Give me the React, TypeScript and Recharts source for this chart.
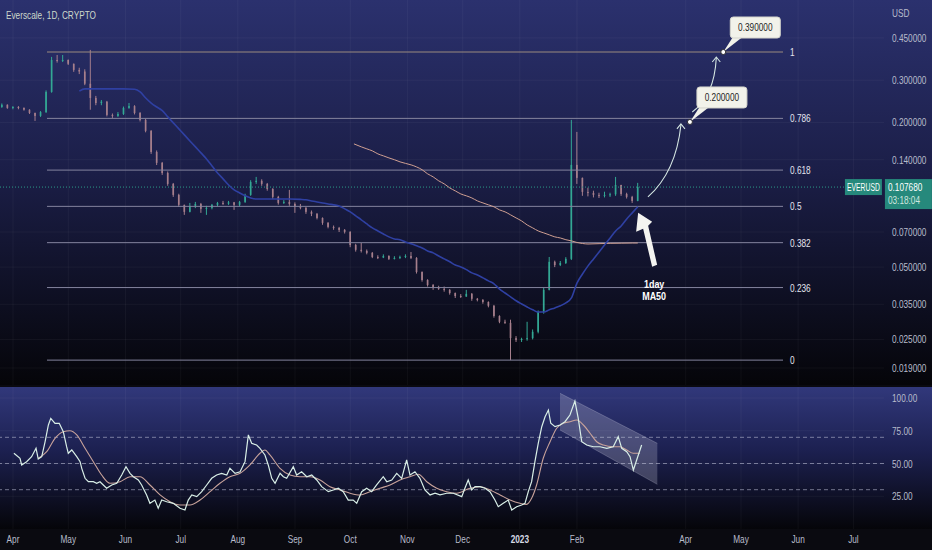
import React from "react";
import {
  ComposedChart,
  Bar,
  Line,
  Area,
  XAxis,
  YAxis,
  ReferenceLine,
  ReferenceDot,
} from "recharts";

const FONT = "'Liberation Sans', Arial, sans-serif";
// x is "days since 2022-04-01"
const X_DOMAIN: [number, number] = [-7.05, 472.6];
const PRICE_DOMAIN: [number, number] = [0.01615, 0.647];
const RSI_DOMAIN: [number, number] = [0, 108.4];

const monthTicks = [0, 30, 61, 91, 122, 153, 183, 214, 244, 275, 306, 365, 395, 426, 456];
const monthLabels = ["Apr", "May", "Jun", "Jul", "Aug", "Sep", "Oct", "Nov", "Dec", "2023", "Feb", "Apr", "May", "Jun", "Jul"];

const priceTicks = [0.019, 0.025, 0.035, 0.05, 0.07, 0.14, 0.2, 0.3, 0.45];
const rsiTicks = [25, 50, 75, 100];
const rsiLevels = [70, 50, 30];

const fibRatios = ["1", "0.786", "0.618", "0.5", "0.382", "0.236", "0"];
const fibPrices = [0.393, 0.208, 0.1267, 0.0895, 0.0632, 0.0411, 0.0205];

const lastPrice = 0.10768;
const targets = ["0.390000", "0.200000"];
const targetPrices = [0.393, 0.201];

// 3-day candles: [day, open, high, low, close]
const candles: number[][] = [
  [-6, 0.232, 0.24, 0.23, 0.237], [-3, 0.237, 0.238, 0.228, 0.23], [0, 0.23, 0.234, 0.227, 0.232],
  [3, 0.232, 0.234, 0.227, 0.23], [6, 0.23, 0.231, 0.224, 0.226], [9, 0.226, 0.227, 0.217, 0.219],
  [12, 0.219, 0.22, 0.203, 0.213], [15, 0.213, 0.223, 0.211, 0.221], [18, 0.221, 0.272, 0.219, 0.268],
  [21, 0.268, 0.375, 0.266, 0.364], [24, 0.364, 0.382, 0.355, 0.361], [27, 0.361, 0.382, 0.357, 0.364],
  [30, 0.364, 0.366, 0.347, 0.351], [33, 0.351, 0.352, 0.325, 0.331], [36, 0.331, 0.338, 0.318, 0.326],
  [39, 0.326, 0.333, 0.286, 0.29], [42, 0.29, 0.401, 0.226, 0.253], [45, 0.253, 0.258, 0.236, 0.241],
  [48, 0.241, 0.248, 0.236, 0.244], [51, 0.244, 0.246, 0.212, 0.215], [54, 0.215, 0.218, 0.209, 0.213],
  [57, 0.213, 0.221, 0.211, 0.217], [60, 0.217, 0.233, 0.215, 0.23], [63, 0.23, 0.241, 0.228, 0.234],
  [66, 0.234, 0.236, 0.216, 0.219], [69, 0.219, 0.221, 0.202, 0.205], [72, 0.205, 0.207, 0.182, 0.1845],
  [75, 0.1845, 0.186, 0.148, 0.1508], [78, 0.1508, 0.153, 0.133, 0.1358], [81, 0.1358, 0.137, 0.121, 0.1233],
  [84, 0.1233, 0.125, 0.109, 0.111], [87, 0.111, 0.112, 0.098, 0.0999], [90, 0.0999, 0.101, 0.089, 0.0908],
  [93, 0.0908, 0.091, 0.0825, 0.0849], [96, 0.0849, 0.0925, 0.0845, 0.0899], [99, 0.0899, 0.0934, 0.088, 0.0916],
  [102, 0.0916, 0.0925, 0.0841, 0.0874], [105, 0.0874, 0.09, 0.0825, 0.0882], [108, 0.0882, 0.0916, 0.087, 0.0908],
  [111, 0.0908, 0.0934, 0.0895, 0.0925], [114, 0.0925, 0.0943, 0.0908, 0.0918], [117, 0.0918, 0.0943, 0.0908, 0.093],
  [120, 0.093, 0.0934, 0.0865, 0.0908], [123, 0.0908, 0.0943, 0.0895, 0.0934], [126, 0.0934, 0.101, 0.0925, 0.0999],
  [129, 0.0999, 0.115, 0.099, 0.1131], [132, 0.1131, 0.1187, 0.111, 0.1143], [135, 0.1143, 0.116, 0.109, 0.111],
  [138, 0.111, 0.112, 0.104, 0.1058], [141, 0.1058, 0.1065, 0.096, 0.098], [144, 0.098, 0.099, 0.091, 0.0925],
  [147, 0.0925, 0.095, 0.0916, 0.0934], [150, 0.0934, 0.1048, 0.09, 0.0916], [153, 0.0916, 0.093, 0.0841, 0.0891],
  [156, 0.0891, 0.0916, 0.087, 0.0882], [159, 0.0882, 0.0891, 0.0833, 0.0849], [162, 0.0849, 0.086, 0.0815, 0.0833],
  [165, 0.0833, 0.084, 0.079, 0.0801], [168, 0.0801, 0.0805, 0.075, 0.0764], [171, 0.0764, 0.077, 0.0725, 0.0735],
  [174, 0.0735, 0.0745, 0.0715, 0.0728], [177, 0.0728, 0.0735, 0.07, 0.0714], [180, 0.0714, 0.072, 0.069, 0.0701],
  [183, 0.0701, 0.0705, 0.0605, 0.0618], [186, 0.0618, 0.0625, 0.058, 0.059], [189, 0.059, 0.063, 0.0575, 0.0584],
  [192, 0.0584, 0.0592, 0.0565, 0.0573], [195, 0.0573, 0.0578, 0.0545, 0.0551], [198, 0.0551, 0.056, 0.054, 0.0548],
  [201, 0.0548, 0.0565, 0.0545, 0.0556], [204, 0.0556, 0.056, 0.0535, 0.0541], [207, 0.0541, 0.0555, 0.0538, 0.0546],
  [210, 0.0546, 0.0558, 0.054, 0.0551], [213, 0.0551, 0.0565, 0.0545, 0.0556], [216, 0.0556, 0.0578, 0.054, 0.0546],
  [219, 0.0546, 0.055, 0.047, 0.0477], [222, 0.0477, 0.048, 0.0435, 0.0442], [225, 0.0442, 0.0445, 0.0415, 0.0421],
  [228, 0.0421, 0.0425, 0.0402, 0.041], [231, 0.041, 0.0418, 0.0402, 0.0406], [234, 0.0406, 0.0415, 0.0395, 0.0402],
  [237, 0.0402, 0.0405, 0.0384, 0.039], [240, 0.039, 0.0392, 0.0372, 0.0379], [243, 0.0379, 0.0386, 0.0372, 0.0377],
  [246, 0.0377, 0.0402, 0.0376, 0.0387], [249, 0.0387, 0.039, 0.0362, 0.0369], [252, 0.0369, 0.0372, 0.036, 0.0365],
  [255, 0.0365, 0.0368, 0.0352, 0.0358], [258, 0.0358, 0.036, 0.034, 0.0345], [261, 0.0345, 0.0348, 0.0308, 0.0313],
  [264, 0.0313, 0.0315, 0.0292, 0.0296], [267, 0.0296, 0.0302, 0.029, 0.0293], [270, 0.0293, 0.0302, 0.0205, 0.0253],
  [273, 0.0253, 0.0258, 0.0244, 0.0249], [276, 0.0249, 0.0254, 0.0244, 0.0251], [279, 0.0251, 0.0296, 0.0247, 0.0253],
  [282, 0.0253, 0.0275, 0.025, 0.0269], [285, 0.0269, 0.033, 0.0265, 0.0325], [288, 0.0325, 0.041, 0.032, 0.0402],
  [291, 0.0402, 0.0551, 0.04, 0.0526], [294, 0.0526, 0.0532, 0.05, 0.051], [297, 0.051, 0.053, 0.0505, 0.052],
  [300, 0.052, 0.055, 0.0515, 0.0541], [303, 0.0541, 0.205, 0.0535, 0.1332], [306, 0.1332, 0.1827, 0.111, 0.1176],
  [309, 0.1176, 0.118, 0.099, 0.1028], [312, 0.1028, 0.107, 0.0985, 0.1018], [315, 0.1018, 0.104, 0.0975, 0.0999],
  [318, 0.0999, 0.102, 0.097, 0.099], [321, 0.099, 0.103, 0.0975, 0.0999], [324, 0.0999, 0.102, 0.098, 0.1005],
  [327, 0.1005, 0.1187, 0.099, 0.1099], [330, 0.1099, 0.11, 0.099, 0.1008], [333, 0.1008, 0.102, 0.0965, 0.098],
  [336, 0.098, 0.099, 0.0925, 0.0943], [339, 0.0943, 0.1121, 0.094, 0.10768],
];

// [day, value]
const ma50: number[][] = [
  [36, 0.27], [39, 0.276], [42, 0.276], [48, 0.276], [54, 0.276], [60, 0.276], [66, 0.275], [69, 0.268],
  [72, 0.253], [75, 0.241], [78, 0.232], [81, 0.224], [84, 0.211], [87, 0.1992], [90, 0.1881], [93, 0.1776],
  [96, 0.1676], [99, 0.1583], [102, 0.1494], [105, 0.141], [108, 0.1319], [111, 0.1233], [114, 0.1165],
  [117, 0.1099], [120, 0.1048], [123, 0.1018], [126, 0.099], [129, 0.097], [132, 0.0961], [141, 0.0961],
  [150, 0.0961], [156, 0.0957], [159, 0.0953], [162, 0.0943], [165, 0.0934], [168, 0.0925], [171, 0.0916],
  [174, 0.0908], [177, 0.0899], [180, 0.0874], [183, 0.0849], [186, 0.0817], [189, 0.0787], [192, 0.0756],
  [195, 0.0728], [198, 0.0707], [201, 0.0687], [204, 0.0668], [207, 0.0655], [210, 0.065], [213, 0.0636],
  [216, 0.0625], [219, 0.0613], [222, 0.0601], [225, 0.0584], [228, 0.0573], [231, 0.0556], [234, 0.0541],
  [237, 0.0526], [240, 0.051], [243, 0.0501], [246, 0.0488], [249, 0.0473], [252, 0.0464], [255, 0.0451],
  [258, 0.0438], [261, 0.0426], [264, 0.0405], [267, 0.039], [270, 0.0376], [273, 0.0362], [276, 0.0351],
  [279, 0.0341], [282, 0.0332], [285, 0.0325], [288, 0.0325], [291, 0.0332], [294, 0.0338], [297, 0.0345],
  [300, 0.0355], [303, 0.0372], [306, 0.0429], [309, 0.0468], [312, 0.0506], [315, 0.0541], [318, 0.0578],
  [321, 0.0618], [324, 0.0661], [327, 0.0707], [330, 0.0742], [333, 0.0793], [336, 0.0841], [339, 0.0891],
];

const ma200: number[][] = [
  [185, 0.1629], [189, 0.1583], [192, 0.1553], [195, 0.1523], [198, 0.148], [201, 0.1452], [204, 0.1424],
  [207, 0.1399], [210, 0.1371], [213, 0.1351], [216, 0.1332], [219, 0.1306], [222, 0.1271], [225, 0.1222],
  [228, 0.1187], [231, 0.1143], [234, 0.111], [237, 0.1068], [240, 0.1038], [243, 0.1008], [246, 0.099],
  [249, 0.097], [252, 0.0943], [255, 0.0925], [258, 0.0908], [261, 0.0891], [264, 0.0865], [267, 0.0849],
  [270, 0.0825], [273, 0.0801], [276, 0.0778], [279, 0.0749], [282, 0.0728], [285, 0.0707], [288, 0.0694],
  [291, 0.0681], [294, 0.0668], [297, 0.0661], [300, 0.065], [303, 0.0643], [306, 0.0633], [309, 0.0627],
  [312, 0.0624], [318, 0.0626], [324, 0.0628], [330, 0.0629], [336, 0.063], [339, 0.063],
];

const rsi: number[][] = [
  [0.5, 57.8], [3.8, 54], [4.7, 48.9], [7.4, 51.4], [10.1, 55.2], [12.5, 61.6], [13.7, 53.4], [15.6, 55.2],
  [17.4, 66.6], [19.2, 79.4], [20.5, 84.5], [22.8, 80.7], [25.1, 80.7], [27.3, 74.3], [29.1, 62.8], [30, 57.8],
  [31.9, 60.3], [34.6, 55.2], [36.4, 51.4], [37.3, 46.3], [39.1, 38.7], [40.9, 36.1], [43.6, 36.1], [45.4, 34.9],
  [47.2, 36.1], [49, 33.6], [50.8, 31.1], [53.6, 33.6], [56.3, 34.9], [59, 41.2], [61.3, 47.6], [63.5, 42.5],
  [65.3, 39.9], [68, 37.4], [69.8, 33.6], [72.5, 26], [74.3, 19.6], [77, 22.1], [78.8, 15.8], [80.7, 22.1],
  [83.4, 20.8], [87, 19.6], [90.6, 15.8], [93.3, 14.5], [95.1, 22.1], [97, 26], [99.7, 24.7], [102.4, 28.5],
  [105.1, 33.6], [107.8, 38.7], [110.5, 41.2], [113.2, 42.5], [116, 41.2], [117.7, 46.3], [120.5, 42.5],
  [123.2, 43.7], [125.9, 51.4], [127.7, 71.8], [129.5, 65.4], [132.2, 64.1], [134, 61.6], [136.7, 56.5],
  [138.5, 48.9], [140.4, 38.7], [142.2, 34.9], [144.9, 42.5], [146.7, 39.9], [148.5, 38.7], [152.1, 47.6],
  [153.9, 41.2], [156.6, 43.7], [159.4, 39.9], [162.1, 41.2], [164.8, 37.4], [167.5, 32.3], [171.1, 28.5],
  [173.8, 29.8], [176.5, 31.1], [179.2, 28.5], [181.9, 22.1], [184.6, 22.1], [186.5, 19.6], [189.2, 28.5],
  [191.9, 31.1], [194.6, 28.5], [197.3, 33.6], [200.9, 39.9], [202.8, 36.1], [205.5, 37.4], [208.2, 42.5],
  [210.9, 38.7], [213.6, 52.7], [215.4, 41.2], [218.1, 43.7], [220.8, 38.7], [223.5, 29.8], [226.3, 26],
  [229, 27.3], [231.7, 26], [235.3, 27.3], [238.9, 27.3], [243.5, 24.7], [245.2, 31.1], [247, 37.4],
  [248.9, 29.8], [250.7, 32.3], [253.4, 32.3], [256.1, 31.1], [258.8, 28.5], [261.5, 22.1], [263.3, 17],
  [266, 19.6], [268.7, 22.1], [270.6, 14.5], [273.3, 17], [276, 18.3], [277.8, 19.6], [279.6, 28.5],
  [281.4, 36.1], [283.2, 51.4], [285, 65.4], [286.9, 78.1], [288.7, 85.7], [290.5, 90.8], [291.8, 80.7],
  [294.1, 78.1], [296.8, 79.4], [299.5, 81.9], [302.2, 87], [304.9, 97.7], [306.7, 84.5], [308.6, 66.6],
  [311.3, 64.1], [314.9, 62.8], [318.5, 62.8], [322.2, 61.6], [325.7, 62.8], [328.4, 70.5], [330.3, 61.6],
  [333, 59], [334.8, 55.2], [336.6, 45], [338.4, 52.7], [341.1, 64.1],
];

const rsiMa: number[][] = [
  [13.7, 54], [18.3, 59], [22.8, 69.2], [27.3, 74.3], [30.9, 75], [34.6, 71.8], [39.1, 61.6], [43.6, 51.4],
  [48.1, 41.2], [52.6, 34.9], [58.1, 36.1], [63.5, 39.9], [68.9, 39.9], [74.3, 33.6], [79.8, 26], [85.2, 20.8],
  [90.6, 18.3], [96, 18.3], [101.5, 22.1], [106.9, 28.5], [112.3, 34.9], [117.7, 39.9], [123.2, 42.5],
  [128.6, 48.9], [134, 57.8], [136.7, 60.3], [139.4, 56.5], [144.9, 46.3], [150.3, 41.2], [155.7, 39.9],
  [161.2, 39.9], [166.6, 37.4], [172, 32.3], [177.4, 29.8], [182.9, 27.3], [188.3, 26], [193.7, 28.5],
  [199.1, 31.1], [204.6, 33.6], [210, 37.4], [215.4, 39.9], [219.9, 41.8], [224.5, 36.1], [229.9, 31.1],
  [235.3, 28.5], [240.7, 27.3], [248, 31.1], [253.4, 32.3], [258.8, 29.8], [264.3, 26], [269.7, 22.1],
  [275.1, 19.6], [278.7, 18.8], [281.4, 23.4], [284.1, 33.6], [287.7, 54], [291.4, 66.6], [295, 76.9],
  [298.6, 80.7], [302.2, 81.9], [305.9, 83.2], [309.5, 79.4], [313.1, 73.1], [316.7, 66.6], [320.3, 64.1],
  [325.7, 62.8], [329.4, 62.8], [333, 60.3], [336.6, 57.8], [340.2, 57.8],
];

// falling channel drawn on the RSI pane: [day, low, high]
const rsiChannel: number[][] = [
  [296.8, 75.6, 103.6],
  [349.6, 34.1, 65.4],
];

const candleRows = candles.map(([d, o, h, l, c]) => ({ d, o, h, l, c }));
const pairRows = (a: number[][]) => a.map(([d, v]) => ({ d, v }));
const channelRows = rsiChannel.map(([d, lo, hi]) => ({ d, r: [lo, hi] }));

// the screenshot's type is horizontally squeezed
function NarrowText({ x, y, text, size = 11, fill = "#b8bccb", anchor = "start", weight = 400, sx = 0.75 }: any) {
  return (
    <text transform={`translate(${x},${y}) scale(${sx},1)`} fontSize={size} fill={fill}
      textAnchor={anchor} fontFamily={FONT} fontWeight={weight}>
      {text}
    </text>
  );
}

function Candle(props: any) {
  const { x, y, width, height, payload } = props;
  if (!payload || y == null || height == null) return null;
  const { o, h, l, c } = payload;
  const top = Math.min(y, y + height);
  const bot = Math.max(y, y + height);
  const span = Math.log(h) - Math.log(l);
  const at = (v: number) => (span > 0 ? top + ((bot - top) * (Math.log(h) - Math.log(v))) / span : top);
  const col = c >= o ? "#33a894" : "#a67f8c";
  const bTop = at(Math.max(o, c));
  const bBot = at(Math.min(o, c));
  const cx = x + width / 2;
  return (
    <g>
      <line x1={cx} x2={cx} y1={top} y2={bot} stroke={col} strokeWidth={1} />
      <rect x={x} y={bTop} width={width} height={Math.max(1, bBot - bTop)} fill={col} />
    </g>
  );
}

const PriceTick = (p: any) => (
  <NarrowText x={p.x} y={p.y + 4} text={Number(p.payload.value).toFixed(6)} />
);
const RsiTick = (p: any) => (
  <NarrowText x={p.x} y={p.y + 4} text={Number(p.payload.value).toFixed(2)} />
);
const MonthTick = (p: any) => {
  const label = monthLabels[monthTicks.indexOf(p.payload.value)] ?? "";
  const year = label === "2023";
  return (
    <NarrowText x={p.x} y={p.y + 6} text={label} anchor="middle"
      fill={year ? "#d6d9e4" : "#b8bccb"} weight={year ? 700 : 400} />
  );
};

function Callout({ cx, cy, text }: any) {
  return (
    <g>
      <polygon points={`${cx},${cy} ${cx + 9},${cy - 14} ${cx + 18},${cy - 14}`} fill="#f2f2ea" />
      <rect x={cx + 7} y={cy - 35} width={50} height={21} rx={3} fill="#f2f2ea" stroke="#d4d4cc" />
      <NarrowText x={cx + 32} y={cy - 21} text={text} anchor="middle" fill="#1e1e24" />
      <circle cx={cx} cy={cy} r={2.5} fill="#ffffff" stroke="#2a2a30" strokeWidth={1} />
    </g>
  );
}

function CurvedArrow({ cx, cy, path, head }: any) {
  const [hx, hy] = head;
  return (
    <g transform={`translate(${cx},${cy})`} fill="none" stroke="#d4e6e2" strokeWidth={1.1}>
      <path d={path} />
      <path d={`M${hx - 4},${hy + 5} L${hx},${hy} L${hx + 4},${hy + 5}`} />
    </g>
  );
}

function BigArrow({ cx, cy }: any) {
  return (
    <g transform={`translate(${cx},${cy})`}>
      <polygon points="0,0 -2,19 5,16 14,54 19,52 10,13 14,9" fill="#f4f4f0" />
      <NarrowText x={16} y={75} text="1day" anchor="middle" fill="#ffffff" size={11.5} weight={700} sx={0.78} />
      <NarrowText x={16} y={87} text="MA50" anchor="middle" fill="#ffffff" size={11.5} weight={700} sx={0.78} />
    </g>
  );
}

function PriceTag({ cx, cy }: any) {
  return (
    <g>
      <rect x={cx} y={cy - 8} width={37} height={16} fill="#26897c" />
      <NarrowText x={cx + 18.5} y={cy + 4} text="EVERUSD" anchor="middle" fill="#ffffff" size={10} sx={0.68} />
      <rect x={cx + 40} y={cy - 8} width={47} height={30} fill="#26897c" />
      <NarrowText x={cx + 43} y={cy + 4} text={lastPrice.toFixed(6)} fill="#ffffff" />
      <NarrowText x={cx + 43} y={cy + 17} text="03:18:04" fill="#cfe6df" />
    </g>
  );
}

const grid = "rgba(255,255,255,0.045)";

export default function App() {
  return (
    <div style={{ position: "absolute", left: 0, top: 0, width: 932, height: 550, background: "#0a0a10", overflow: "hidden" }}>
      <div style={{ position: "absolute", left: 0, top: 0, width: 932, height: 385, background: "linear-gradient(#2b316e, #1b1e47 45%, #050509)" }} />
      <div style={{ position: "absolute", left: 0, top: 387, width: 932, height: 142, background: "linear-gradient(#31387b, #1c2050 45%, #050509)" }} />

      <div style={{ position: "absolute", left: 0, top: 0 }}>
        <ComposedChart width={932} height={385} data={candleRows} margin={{ top: 0, right: 0, bottom: 0, left: 0 }}>
          <XAxis dataKey="d" type="number" domain={X_DOMAIN} allowDataOverflow hide />
          <YAxis orientation="right" width={48} scale="log" domain={PRICE_DOMAIN} allowDataOverflow
            ticks={priceTicks} interval={0} tick={<PriceTick />} axisLine={false} tickLine={false} />
          {monthTicks.map((t) => <ReferenceLine key={"v" + t} x={t} stroke={grid} />)}
          {priceTicks.map((t) => <ReferenceLine key={"h" + t} y={t} stroke={grid} />)}
          {fibPrices.map((p, i) => (
            <ReferenceLine key={"f" + i} segment={[{ x: 18.45, y: p }, { x: 417.8, y: p }]}
              stroke={i === 0 ? "#9a8a7e" : "#84849e"} strokeWidth={1} />
          ))}
          {fibPrices.map((p, i) => (
            <ReferenceDot key={"fl" + i} x={421.6} y={p} r={0}
              shape={(s: any) => <NarrowText x={s.cx} y={s.cy + 4} text={fibRatios[i]} fill="#e4e4ee" />} />
          ))}
          <ReferenceLine segment={[{ x: X_DOMAIN[0], y: lastPrice }, { x: 451.4, y: lastPrice }]}
            stroke="#2c9a88" strokeDasharray="1 2" />
          <Line data={pairRows(ma200)} dataKey="v" type="monotone" stroke="#cf9f92" strokeWidth={1}
            dot={false} activeDot={false} isAnimationActive={false} />
          <Line data={pairRows(ma50)} dataKey="v" type="monotone" stroke="#2f40a2" strokeWidth={1.6}
            dot={false} activeDot={false} isAnimationActive={false} />
          <Bar dataKey={(r: any) => [r.l, r.h]} barSize={4} shape={Candle} activeBar={false} isAnimationActive={false} />
          <ReferenceDot x={367.3} y={targetPrices[1]} r={0}
            shape={(s: any) => <CurvedArrow cx={s.cx} cy={s.cy} path="M-42,75 Q-14,50 -9,3" head={[-9, 2]} />} />
          <ReferenceDot x={385.4} y={targetPrices[0]} r={0}
            shape={(s: any) => <CurvedArrow cx={s.cx} cy={s.cy} path="M-31,60 Q-9,44 -7,6" head={[-7, 5]} />} />
          {targetPrices.map((p, i) => (
            <ReferenceDot key={"t" + i} x={i === 0 ? 385.4 : 367.3} y={p} r={0}
              shape={(s: any) => <Callout cx={s.cx} cy={s.cy} text={targets[i]} />} />
          ))}
          <ReferenceDot x={339.2} y={0.0841} r={0} shape={(s: any) => <BigArrow cx={s.cx} cy={s.cy} />} />
          <ReferenceDot x={451.4} y={lastPrice} r={0} shape={(s: any) => <PriceTag cx={s.cx} cy={s.cy} />} />
        </ComposedChart>
      </div>

      <div style={{ position: "absolute", left: 0, top: 387 }}>
        <ComposedChart width={932} height={163} margin={{ top: 0, right: 0, bottom: 0, left: 0 }}>
          <XAxis dataKey="d" type="number" domain={X_DOMAIN} allowDataOverflow ticks={monthTicks}
            interval={0} height={21} tick={<MonthTick />} axisLine={false} tickLine={false} />
          <YAxis orientation="right" width={48} domain={RSI_DOMAIN} allowDataOverflow ticks={rsiTicks}
            interval={0} tick={<RsiTick />} axisLine={false} tickLine={false} />
          {monthTicks.map((t) => <ReferenceLine key={"v" + t} x={t} stroke={grid} />)}
          {rsiTicks.map((t) => <ReferenceLine key={"h" + t} y={t} stroke={grid} />)}
          {rsiLevels.map((t) => (
            <ReferenceLine key={"l" + t} y={t} stroke="rgba(196,198,220,0.55)" strokeDasharray="4 3" />
          ))}
          <Area data={channelRows} dataKey="r" type="linear" fill="#c8c8dc" fillOpacity={0.26}
            stroke="#d0d0e2" strokeOpacity={0.25} activeDot={false} isAnimationActive={false} />
          <Line data={pairRows(rsiMa)} dataKey="v" type="monotone" stroke="#c9a39b" strokeWidth={1.1}
            dot={false} activeDot={false} isAnimationActive={false} />
          <Line data={pairRows(rsi)} dataKey="v" type="linear" stroke="#d9efe7" strokeWidth={1.2}
            dot={false} activeDot={false} isAnimationActive={false} />
        </ComposedChart>
      </div>

      <svg width={932} height={30} style={{ position: "absolute", left: 0, top: 0, pointerEvents: "none" }}>
        <NarrowText x={6} y={19} text="Everscale, 1D, CRYPTO" fill="#cdd9cb" />
        <NarrowText x={892} y={17} text="USD" fill="#b8bccb" />
      </svg>
    </div>
  );
}
